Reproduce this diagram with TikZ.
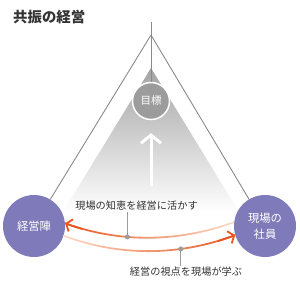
\documentclass[tikz,border=0pt]{standalone}
\usepackage{fontspec}
\setmainfont{Noto Sans CJK JP}
\usepackage{tikz}
\usetikzlibrary{arrows.meta, positioning, calc}

\definecolor{member}{HTML}{7F7AB9}
\definecolor{goalgray}{HTML}{9C9C9C}
\definecolor{linegray}{HTML}{8A8A8A}
\definecolor{txt}{HTML}{333333}
\definecolor{orangeD}{HTML}{E8561E}
\definecolor{orangeL}{HTML}{FBDCC8}

\begin{document}
\begin{tikzpicture}[x=1pt, y=-1pt,
    person/.style={circle, fill=member, minimum size=62pt, inner sep=0pt, text=white,
        align=center, font=\fontsize{11.3}{16}\selectfont},
    goal/.style={circle, fill=goalgray, draw=white, line width=1.5pt, minimum size=37pt,
        inner sep=0pt, text=white, font=\fontsize{10.5}{12}\selectfont},
    note/.style={text=txt, inner sep=1pt, font=\fontsize{10.2}{12}\selectfont},
    leader/.style={draw=linegray!85, line width=0.9pt},
    dot/.style={circle, fill=linegray!85, inner sep=0pt, minimum size=5pt}]
    \useasboundingbox (0,0) rectangle (300,288);

    \node[anchor=west, inner sep=0pt, text=txt, font=\fontsize{14.4}{16}\bfseries] (title) at (13,17) {共振の経営};

    % light cone under the goal
    \shade[top color=black!36, middle color=black!13, bottom color=white] (151,68) -- (239,212) -- (63,212) -- cycle;

    \coordinate (top) at (151,22);
    \coordinate (apex) at (151,35);
    \node[person] (keiei) at (34,226) {経営陣};
    \node[person] (genba) at (265,226) {現場の\\社員};
    \node[goal] (goal) at (151,101) {目標};

    \draw[linegray, line width=0.9pt] (top) -- (goal);
    \draw[linegray, line width=0.9pt] (apex) -- (keiei);
    \draw[linegray, line width=0.9pt] (apex) -- (genba);

    \coordinate (base) at (151,186);
    \draw[white, line width=3pt, -{Straight Barb[length=8pt, width=20pt]}] (base) -- ([yshift=-13pt]goal.south);

    % upper arc: genba -> keiei
    \shade[left color=orangeD, middle color=orangeD!75!orangeL, right color=orangeL]
        ([yshift=0.9pt]genba.173) .. controls +(-55,20) and +(55,20) .. ([yshift=0.9pt]keiei.5)
        -- ([yshift=-0.9pt]keiei.5) .. controls +(55,20) and +(-55,20) .. ([yshift=-0.9pt]genba.173) -- cycle;
    \begin{scope}
        \clip (60,205) rectangle (82,240);
        \draw[orangeD, line width=1.8pt, -{Straight Barb[length=5pt, width=13pt]}]
            (genba.173) .. controls +(-55,20) and +(55,20) .. (keiei.5);
    \end{scope}
    \path (genba.173) .. controls +(-55,20) and +(55,20) .. (keiei.5) coordinate[pos=0.63] (d1);

    % lower arc: keiei -> genba
    \shade[left color=orangeL, middle color=orangeD!75!orangeL, right color=orangeD]
        ([yshift=0.9pt]keiei.-18) .. controls +(55,21) and +(-55,21) .. ([yshift=0.9pt]genba.197)
        -- ([yshift=-0.9pt]genba.197) .. controls +(-55,21) and +(55,21) .. ([yshift=-0.9pt]keiei.-18) -- cycle;
    \begin{scope}
        \clip (218,220) rectangle (240,250);
        \draw[orangeD, line width=1.8pt, -{Straight Barb[length=5pt, width=13pt]}]
            (keiei.-18) .. controls +(55,21) and +(-55,21) .. (genba.197);
    \end{scope}
    \path (keiei.-18) .. controls +(55,21) and +(-55,21) .. (genba.197) coordinate[pos=0.68] (d2);

    \node[note] (up) at (136.5,206) {現場の知恵を経営に活かす};
    \node[note] (low) at (186,272) {経営の視点を現場が学ぶ};

    \draw[leader] (d1) -- (d1 |- up.south);
    \node[dot] (p1) at (d1) {};
    \draw[leader] (d2) -- (d2 |- low.north);
    \node[dot] (p2) at (d2) {};
\end{tikzpicture}
\end{document}
